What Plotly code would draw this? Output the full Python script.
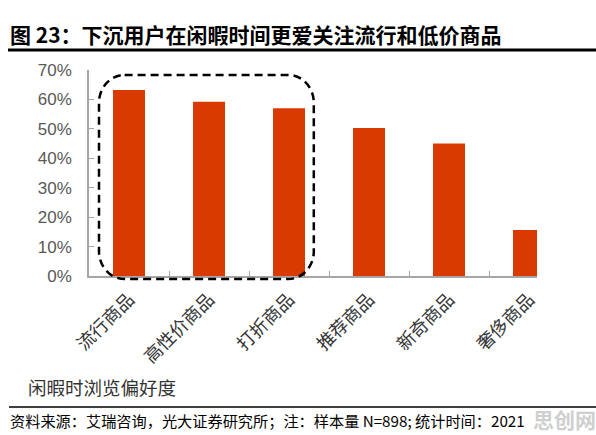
import plotly.graph_objects as go

categories = ["流行商品", "高性价商品", "打折商品", "推荐商品", "新奇商品", "奢侈商品"]
values = [63.2, 59.2, 57.0, 50.3, 45.0, 15.6]
y_ticks = [0, 10, 20, 30, 40, 50, 60, 70]
y_tick_labels = [f"{v}%" for v in y_ticks]

title_text = "图 23：下沉用户在闲暇时间更爱关注流行和低价商品"
axis_label = "闲暇时浏览偏好度"
source_text = "资料来源：艾瑞咨询，光大证券研究所；注：样本量 N=898; 统计时间：2021"

W, H = 596, 435
L, R, T, B = 89, 59, 70, 159

fig = go.Figure()
fig.add_trace(go.Bar(
    x=categories, y=values, width=0.4,
    marker=dict(color="#D93A00", line=dict(width=0)),
    cliponaxis=True,
))

# dashed rounded highlight box (x in category units, y in paper)
x0, x1 = -0.375, 2.31
y0, y1 = -0.015, 0.976
rx, ry = 0.32, 0.135
k = 0.552
path = (f"M {x0+rx},{y1} L {x1-rx},{y1} "
        f"C {x1-rx+k*rx},{y1} {x1},{y1-ry+k*ry} {x1},{y1-ry} "
        f"L {x1},{y0+ry} "
        f"C {x1},{y0+ry-k*ry} {x1-rx+k*rx},{y0} {x1-rx},{y0} "
        f"L {x0+rx},{y0} "
        f"C {x0+rx-k*rx},{y0} {x0},{y0+ry-k*ry} {x0},{y0+ry} "
        f"L {x0},{y1-ry} "
        f"C {x0},{y1-ry+k*ry} {x0+rx-k*rx},{y1} {x0+rx},{y1} Z")
fig.add_shape(type="path", path=path, xref="x", yref="paper",
              line=dict(color="black", width=2.5, dash="8px,5px"))

def px_x(p):
    return (p - L) / (W - L - R)

def px_y(p):
    return (H - B - p) / (H - T - B)

# title underline
fig.add_shape(type="line", xref="paper", yref="paper",
              x0=px_x(8), x1=px_x(W), y0=px_y(50), y1=px_y(50),
              line=dict(color="black", width=3))
# source line
fig.add_shape(type="line", xref="paper", yref="paper",
              x0=px_x(9), x1=px_x(W), y0=px_y(407), y1=px_y(407),
              line=dict(color="black", width=1.5))

font_cjk = "Noto Sans CJK SC"

fig.add_annotation(text=f"<b>{title_text}</b>", xref="paper", yref="paper",
                   x=px_x(8), y=px_y(34), xanchor="left", yanchor="middle",
                   showarrow=False, font=dict(family=font_cjk, size=21, color="black"))
fig.add_annotation(text=axis_label, xref="paper", yref="paper",
                   x=px_x(26), y=px_y(387), xanchor="left", yanchor="middle",
                   showarrow=False, font=dict(family=font_cjk, size=18.5, color="#333333"))
fig.add_annotation(text=source_text, xref="paper", yref="paper",
                   x=px_x(8), y=px_y(420), xanchor="left", yanchor="middle",
                   showarrow=False, font=dict(family=font_cjk, size=15.2, color="black"))
fig.add_annotation(text="<b>思创网</b>", xref="paper", yref="paper",
                   x=px_x(598), y=px_y(419), xanchor="right", yanchor="middle",
                   showarrow=False, font=dict(family=font_cjk, size=21, color="#cfcfcf"))

fig.update_layout(
    width=W, height=H,
    margin=dict(l=L, r=R, t=T, b=B, pad=0),
    plot_bgcolor="white", paper_bgcolor="white",
    showlegend=False,
    bargap=0.6,
)
fig.update_xaxes(
    type="category", range=[-0.5, 5.1],
    tickson="boundaries", ticks="inside", ticklen=5, tickcolor="#A6A6A6",
    showline=True, linecolor="#A6A6A6", linewidth=1.5,
    showgrid=False, zeroline=False,
    tickangle=-45, ticklabelstandoff=4,
    tickfont=dict(family=font_cjk, size=18, color="#333333"),
)
fig.update_yaxes(
    range=[0, 70], tickvals=y_ticks, ticktext=y_tick_labels,
    ticks="inside", ticklen=5, tickcolor="#A6A6A6",
    showline=True, linecolor="#A6A6A6", linewidth=1.5,
    showgrid=False, zeroline=False,
    ticklabelstandoff=12,
    tickfont=dict(family="Liberation Sans, Arial", size=17, color="#595959"),
)

fig.write_html("out.html")
